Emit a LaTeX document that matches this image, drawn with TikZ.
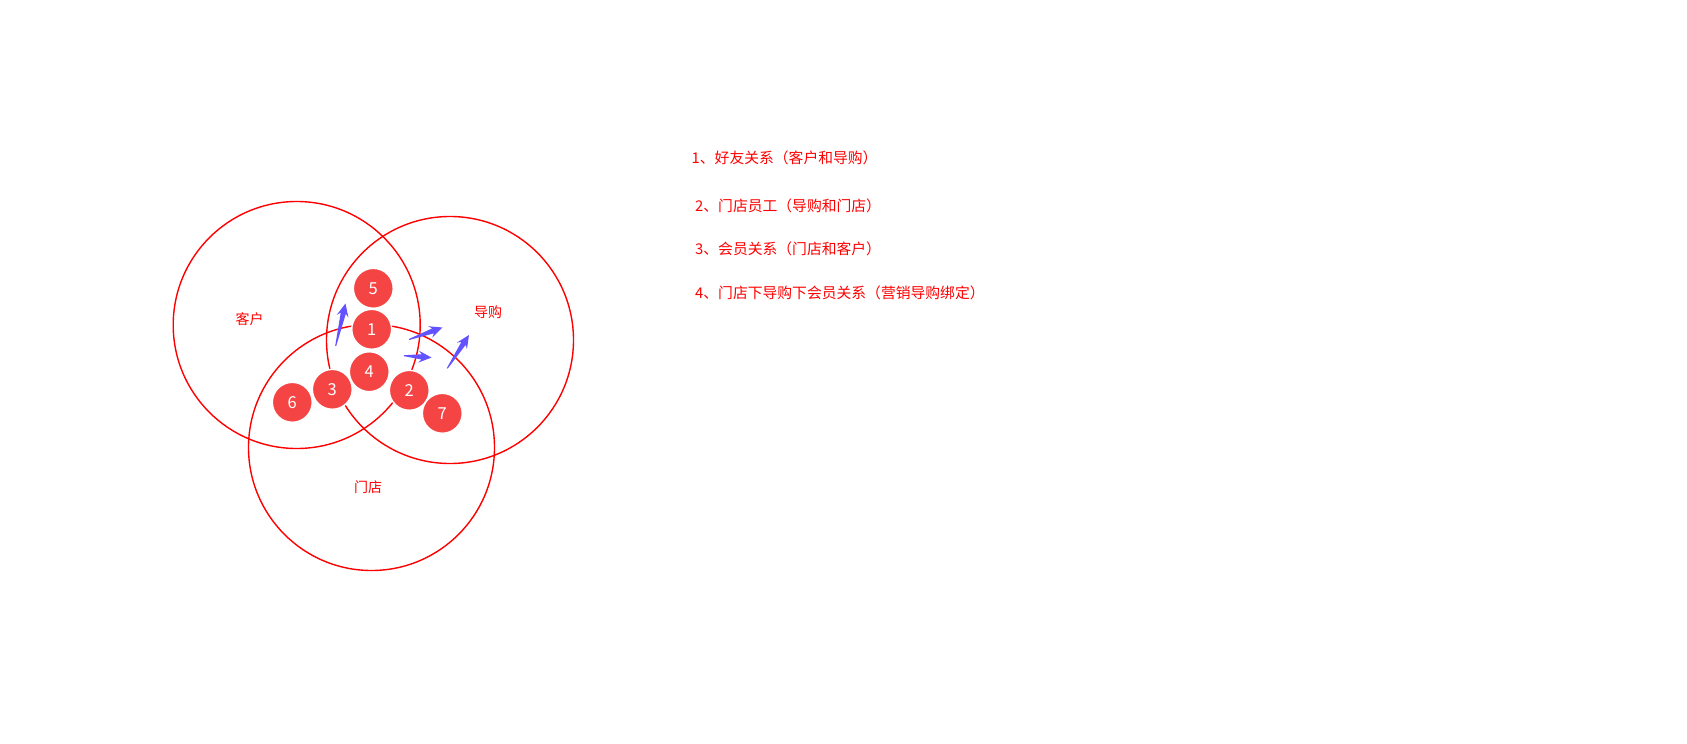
\documentclass[tikz,border=0pt]{standalone}
\usepackage{fontspec}
\setmainfont{Noto Sans CJK SC}
\usetikzlibrary{calc}
\definecolor{ringred}{RGB}{255,0,0}
\definecolor{dotred}{RGB}{244,68,68}
\definecolor{arrowblue}{RGB}{98,82,255}
\tikzset{
  ring/.style={draw=ringred, line width=1.4pt},
  dot/.style={circle, fill=dotred, draw=white, line width=1.5pt, minimum size=40pt, inner sep=0pt, text=white, font=\fontsize{16.5}{17}\selectfont},
  setlabel/.style={text=ringred, font=\fontsize{14}{15}\selectfont, inner sep=0pt},
  legend/.style={text=ringred, font=\fontsize{14.8}{16}\selectfont, anchor=west, inner sep=0pt},
  arrowfill/.style={fill=arrowblue, draw=none}
}
\newcommand\taperarrow[2]{%
  \fill[arrowfill] let \p1=($(#2)-(#1)$), \n1={atan2(\y1,\x1)}, \n2={veclen(\x1,\y1)} in
  [shift={(#1)}, rotate=\n1]
  (0,0.5) -- (\n2-10,2.6) -- (\n2-13,6) -- (\n2,0) -- (\n2-13,-6) -- (\n2-10,-2.6) -- (0,-0.5) -- cycle;}
\begin{document}
\begin{tikzpicture}[x=1pt, y=-1pt]
\useasboundingbox (0,0) rectangle (1687,744);
% big circles
\node[ring, circle, minimum size=247pt, inner sep=0pt] (kehu) at (296.7,325) {};
\node[ring, circle, minimum size=247pt, inner sep=0pt] (daogou) at (450,340) {};
\node[ring, circle, minimum size=246pt, inner sep=0pt] (mendian) at (371.5,447.5) {};
% labels
\node[setlabel] (lkehu) at (249.5,319.5) {客户};
\node[setlabel] (ldaogou) at (488,312.5) {导购};
\node[setlabel] (lmendian) at (368,487) {门店};
% small circles
\node[dot] (n5) at (373.3,288.3) {5};
\node[dot] (n1) at (371.7,329.3) {1};
\node[dot] (n4) at (369.3,371.7) {4};
\node[dot] (n3) at (332.3,389.3) {3};
\node[dot] (n6) at (292.3,402.3) {6};
\node[dot] (n2) at (409.3,390.3) {2};
\node[dot] (n7) at (442.3,413.3) {7};
% arrows
\coordinate (a1s) at (335.7,346);
\coordinate (a1e) at (345.5,303.5);
\coordinate (a2s) at (409,339.5);
\coordinate (a2e) at (442.5,327.5);
\coordinate (a3s) at (404,355.7);
\coordinate (a3e) at (431.5,357.5);
\coordinate (a4s) at (447.3,368.3);
\coordinate (a4e) at (469,335);
\taperarrow{a1s}{a1e}
\taperarrow{a2s}{a2e}
\taperarrow{a3s}{a3e}
\taperarrow{a4s}{a4e}
% legend
\node[legend] (t1) at (691.5,158.3) {1、好友关系（客户和导购）};
\node[legend] (t2) at (695,206) {2、门店员工（导购和门店）};
\node[legend] (t3) at (695,249) {3、会员关系（门店和客户）};
\node[legend] (t4) at (695,293.3) {4、门店下导购下会员关系（营销导购绑定）};
\end{tikzpicture}
\end{document}
